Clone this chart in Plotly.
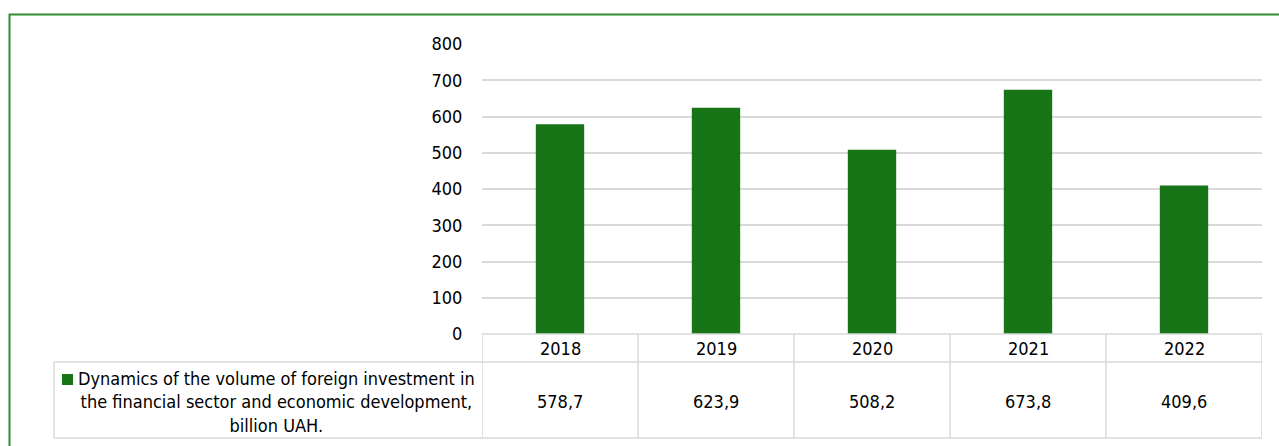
import plotly.graph_objects as go

W, H = 1279, 446
OFF = 0  # body margin removed via post_script

years = ["2018", "2019", "2020", "2021", "2022"]
values = [578.7, 623.9, 508.2, 673.8, 409.6]
value_labels = ["578,7", "623,9", "508,2", "673,8", "409,6"]
series_name = "Dynamics of the volume of foreign investment in<br>the financial sector and economic development,<br>billion UAH."
y_ticks = [0, 100, 200, 300, 400, 500, 600, 700, 800]

BAR = "#177517"
GRID = "#d9d9d9"
FRAME = "#2e8b2e"
FONT = "DejaVu Sans Condensed, Liberation Sans, Arial, sans-serif"
FS = 18


def px(x):
    return (x - OFF) / W


def py(y):
    return 1 - (y - OFF) / H


plot_l, plot_r, plot_t, plot_b = 482, 1262, 44, 334
row1_b, row2_b = 362, 438
leg_l = 54

fig = go.Figure()
fig.add_trace(go.Bar(x=years, y=values, marker=dict(color=BAR, line=dict(width=0)),
                     width=0.31, showlegend=False, hoverinfo="x+y"))

shapes = []
shapes.append(dict(type="rect", xref="paper", yref="paper", x0=px(9.5), x1=px(1320),
                   y0=py(480), y1=py(14.5), line=dict(color=FRAME, width=2), layer="below"))
line_style = dict(color=GRID, width=1.5)
shapes.append(dict(type="line", xref="paper", yref="paper", x0=px(plot_l), x1=px(plot_r),
                   y0=py(plot_b), y1=py(plot_b), line=line_style))
shapes.append(dict(type="line", xref="paper", yref="paper", x0=px(leg_l), x1=px(plot_r),
                   y0=py(row1_b), y1=py(row1_b), line=line_style))
shapes.append(dict(type="line", xref="paper", yref="paper", x0=px(leg_l), x1=px(plot_r),
                   y0=py(row2_b), y1=py(row2_b), line=line_style))
shapes.append(dict(type="line", xref="paper", yref="paper", x0=px(leg_l), x1=px(leg_l),
                   y0=py(row1_b), y1=py(row2_b), line=line_style))
for i in range(len(years) + 1):
    shapes.append(dict(type="line", xref="x", yref="paper", x0=i - 0.5, x1=i - 0.5,
                       y0=py(plot_b), y1=py(row2_b), line=line_style))
shapes.append(dict(type="rect", xref="paper", yref="paper", x0=px(62), x1=px(73),
                   y0=py(385), y1=py(374), line=dict(width=0), fillcolor=BAR))

annotations = []
for i, (yr, lab) in enumerate(zip(years, value_labels)):
    annotations.append(dict(x=i, xref="x", y=py(348), yref="paper", text=yr,
                            showarrow=False, font=dict(size=FS, color="#000", family=FONT),
                            xanchor="center", yanchor="middle"))
    annotations.append(dict(x=i, xref="x", y=py(401), yref="paper", text=lab,
                            showarrow=False, font=dict(size=FS, color="#000", family=FONT),
                            xanchor="center", yanchor="middle"))
annotations.append(dict(x=px(276), xref="paper", y=py(402), yref="paper", text=series_name,
                        showarrow=False, align="center", xanchor="center", yanchor="middle",
                        font=dict(size=FS, color="#000", family=FONT)))

fig.update_layout(
    width=W, height=H, autosize=False,
    margin=dict(l=0, r=0, t=0, b=0, pad=0, autoexpand=False),
    paper_bgcolor="white", plot_bgcolor="white",
    font=dict(family=FONT, size=FS, color="#000"),
    xaxis=dict(domain=[px(plot_l), px(plot_r)], type="category", range=[-0.5, 4.5],
               showticklabels=False, showgrid=False, showline=False, zeroline=False,
               ticks="", automargin=False),
    yaxis=dict(domain=[py(plot_b), py(plot_t)], range=[0, 800], tickvals=y_ticks,
               showgrid=True, gridcolor=GRID, gridwidth=1.5, zeroline=False, showline=False,
               ticks="outside", ticklen=15, tickcolor="rgba(0,0,0,0)", automargin=False,
               tickfont=dict(size=FS, color="#000", family=FONT)),
    shapes=shapes, annotations=annotations,
)

fig.write_html("out.html", config={"displayModeBar": False},
               post_script="document.body.style.margin='0';document.body.style.overflow='hidden';")
